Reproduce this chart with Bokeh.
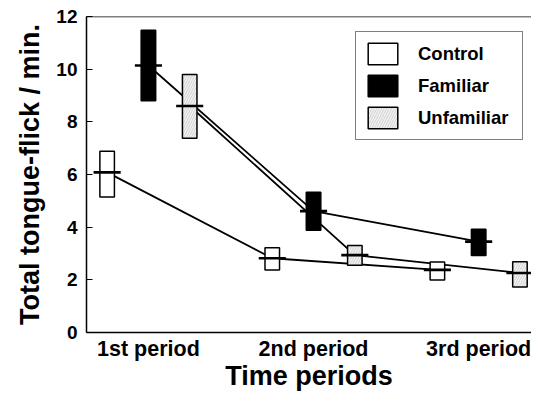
from bokeh.plotting import figure
from bokeh.models import Range1d, FixedTicker, Legend, LegendItem, Span
from bokeh.embed import file_html
from bokeh.resources import INLINE

# ---- data ----
periods = ["1st period", "2nd period", "3rd period"]
period_pos = [1, 2, 3]
groups = ["Control", "Familiar", "Unfamiliar"]
group_offset = [-0.25, 0.0, 0.25]

control_mean = [6.08, 2.82, 2.38]
control_hi = [6.88, 3.22, 2.68]
control_lo = [5.15, 2.37, 1.99]

familiar_mean = [10.14, 4.61, 3.45]
familiar_hi = [11.48, 5.33, 3.92]
familiar_lo = [8.80, 3.88, 2.92]

unfamiliar_mean = [8.60, 2.94, 2.26]
unfamiliar_hi = [9.80, 3.30, 2.69]
unfamiliar_lo = [7.38, 2.55, 1.73]

y_ticks = [0, 2, 4, 6, 8, 10, 12]

FONT = "Liberation Sans"

p = figure(width=531, height=394,
           x_range=Range1d(0.625, 3.32), y_range=Range1d(0, 12),
           output_backend="svg", toolbar_location=None,
           min_border_left=86, min_border_top=16, min_border_right=0,
           min_border_bottom=62)
p.xgrid.visible = False
p.ygrid.visible = False
p.outline_line_color = None
p.background_fill_color = "white"

# top frame line
p.add_layout(Span(location=12, dimension="width", line_color="black", line_width=1.5))

series = [
    (control_mean, control_hi, control_lo, dict(fill_color="white")),
    (familiar_mean, familiar_hi, familiar_lo, dict(fill_color="black")),
    (unfamiliar_mean, unfamiliar_hi, unfamiliar_lo,
     dict(fill_color="#f2f2f2", hatch_pattern="/", hatch_color="#b8b8b8",
          hatch_scale=5, hatch_weight=0.6)),
]

items = []
box_w = 0.088
tick_half = 0.082
for gi, (mean, hi, lo, fill) in enumerate(series):
    xs = [pp + group_offset[gi] for pp in period_pos]
    p.line(xs, mean, line_color="black", line_width=1.8)

for gi, (mean, hi, lo, fill) in enumerate(series):
    xs = [pp + group_offset[gi] for pp in period_pos]
    r = p.vbar(x=xs, width=box_w, bottom=lo, top=hi, line_color="black",
               line_width=1.5, **fill)
    items.append(LegendItem(label=groups[gi], renderers=[r]))
    p.segment(x0=[x - tick_half for x in xs], x1=[x + tick_half for x in xs],
              y0=mean, y1=mean, line_color="black", line_width=2.6)

legend = Legend(items=items, location=(269, 192))
legend.border_line_color = "black"
legend.border_line_width = 1.2
legend.background_fill_alpha = 1.0
legend.glyph_width = 37
legend.glyph_height = 27
legend.label_standoff = 17
legend.label_width = 96
legend.spacing = 5
legend.padding = 8
legend.label_text_font = FONT
legend.label_text_font_style = "bold"
legend.label_text_font_size = "18.5px"
legend.label_text_color = "black"
p.add_layout(legend, "center")

# y axis
ya = p.yaxis[0]
ya.ticker = FixedTicker(ticks=y_ticks)
ya.minor_tick_line_color = None
ya.major_tick_in = 6
ya.major_tick_out = 0
ya.major_tick_line_width = 1.2
ya.axis_line_width = 1.5
ya.axis_line_color = "black"
ya.major_label_standoff = 9
ya.major_label_text_font = FONT
ya.major_label_text_font_style = "bold"
ya.major_label_text_font_size = "19px"
ya.major_label_text_color = "black"
ya.axis_label = "Total tongue-flick / min."
ya.axis_label_text_font = FONT
ya.axis_label_text_font_style = "bold"
ya.axis_label_text_font_size = "27px"
ya.axis_label_text_color = "black"
ya.axis_label_standoff = 8

# x axis
xa = p.xaxis[0]
xa.ticker = FixedTicker(ticks=period_pos)
xa.major_label_overrides = {pos: lab for pos, lab in zip(period_pos, periods)}
xa.minor_tick_line_color = None
xa.major_tick_line_color = None
xa.major_tick_in = 0
xa.major_tick_out = 0
xa.axis_line_width = 1.5
xa.axis_line_color = "black"
xa.major_label_standoff = 4
xa.major_label_text_font = FONT
xa.major_label_text_font_style = "bold"
xa.major_label_text_font_size = "21.5px"
xa.major_label_text_color = "black"
xa.axis_label = "Time periods"
xa.axis_label_text_font = FONT
xa.axis_label_text_font_style = "bold"
xa.axis_label_text_font_size = "27px"
xa.axis_label_text_color = "black"
xa.axis_label_standoff = -3

open("out.html", "w").write(file_html(p, INLINE))
